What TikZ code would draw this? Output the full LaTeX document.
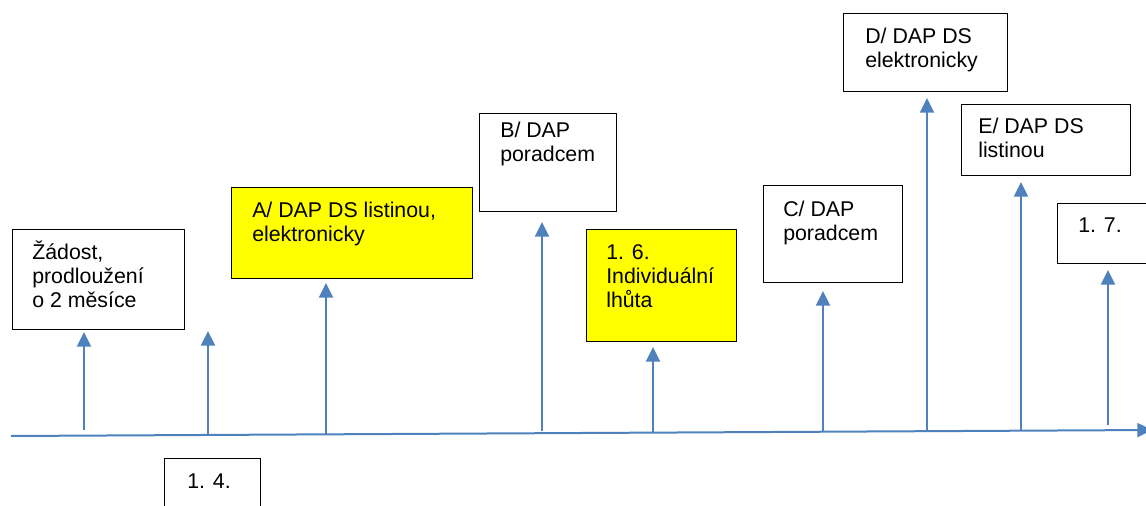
\documentclass[tikz,border=0pt]{standalone}
\usepackage{fontspec}
\setmainfont{Liberation Sans}
\usetikzlibrary{arrows.meta}
\definecolor{lineblue}{RGB}{79,129,189}
\definecolor{mark}{RGB}{255,255,0}
\begin{document}
\begin{tikzpicture}[x=0.75pt,y=-0.75pt,
  box/.style={draw=black,line width=0.8pt,inner sep=0pt,anchor=north west},
  hilite/.style={box,fill=mark},
  % labels are placed by the baseline of their last line
  lbl/.style={anchor=base west,align=left,inner sep=0pt,
    font=\fontsize{16pt}{18pt}\selectfont},
  arr/.style={draw=lineblue,line width=1.5pt,
    -{Triangle[width=10.5pt,length=11pt]}},
  axis/.style={draw=lineblue,line width=1.5pt,
    -{Triangle[width=10.5pt,length=11pt]}}]
\useasboundingbox (0,0) rectangle (1146,506);
\clip (0,0) rectangle (1146,506);

% time line
\coordinate (s) at (11,436);
\coordinate (t) at (1152,430);
\draw[axis] (s) -- (t);

% boxes
\node[box,minimum width=129pt,minimum height=75pt] (z) at (12,229) {};
\node[hilite,minimum width=180.75pt,minimum height=68.25pt] (a) at (231,187) {};
\node[box,minimum width=102.75pt,minimum height=73.5pt] (b) at (479,113) {};
\node[hilite,minimum width=112.5pt,minimum height=84pt] (f) at (586,229) {};
\node[box,minimum width=104.25pt,minimum height=72.75pt] (c) at (763,185) {};
\node[box,minimum width=123pt,minimum height=58.5pt] (d) at (843,13) {};
\node[box,minimum width=126.75pt,minimum height=53.25pt] (e) at (961,104) {};
\node[box,minimum width=75pt,minimum height=45pt] (g) at (1057,203) {};
\node[box,minimum width=72pt,minimum height=45pt] (h) at (164,458) {};

% labels
\node[lbl] (zt) at (32,307) {Žádost,\\prodloužení\\o 2 měsíce};
\node[lbl] (at) at (252,242) {A/ DAP DS listinou,\\elektronicky};
\node[lbl] (bt) at (500,162) {B/ DAP\\poradcem};
\node[lbl] (ft) at (606,307) {1. 6.\\Individuální\\lhůta};
\node[lbl] (ct) at (783,240) {C/ DAP\\poradcem};
\node[lbl] (dt) at (865,68) {D/ DAP DS\\elektronicky};
\node[lbl] (et) at (978,158) {E/ DAP DS\\listinou};
\node[lbl] (gt) at (1078,233) {1. 7.};
\node[lbl] (ht) at (187,488) {1. 4.};

% arrow feet on the time line
\coordinate (p1) at (84,430);
\coordinate (p2) at (208,434);
\coordinate (p3) at (326,435);
\coordinate (p4) at (542,431);
\coordinate (p5) at (653,433);
\coordinate (p6) at (823,432);
\coordinate (p7) at (927,430);
\coordinate (p8) at (1021,430);
\coordinate (p9) at (1108,425);
\coordinate (q2) at (208,331);

% arrows
\draw[arr,shorten >=1.5pt] (p1) -- (p1 |- z.south);
\draw[arr] (p2) -- (q2);
\draw[arr,shorten >=3pt] (p3) -- (p3 |- a.south);
\draw[arr,shorten >=7.5pt] (p4) -- (p4 |- b.south);
\draw[arr,shorten >=3.75pt] (p5) -- (p5 |- f.south);
\draw[arr,shorten >=6pt] (p6) -- (p6 |- c.south);
\draw[arr,shorten >=4.5pt] (p7) -- (p7 |- d.south);
\draw[arr,shorten >=4.5pt] (p8) -- (p8 |- e.south);
\draw[arr,shorten >=4.5pt] (p9) -- (p9 |- g.south);
\end{tikzpicture}
\end{document}
